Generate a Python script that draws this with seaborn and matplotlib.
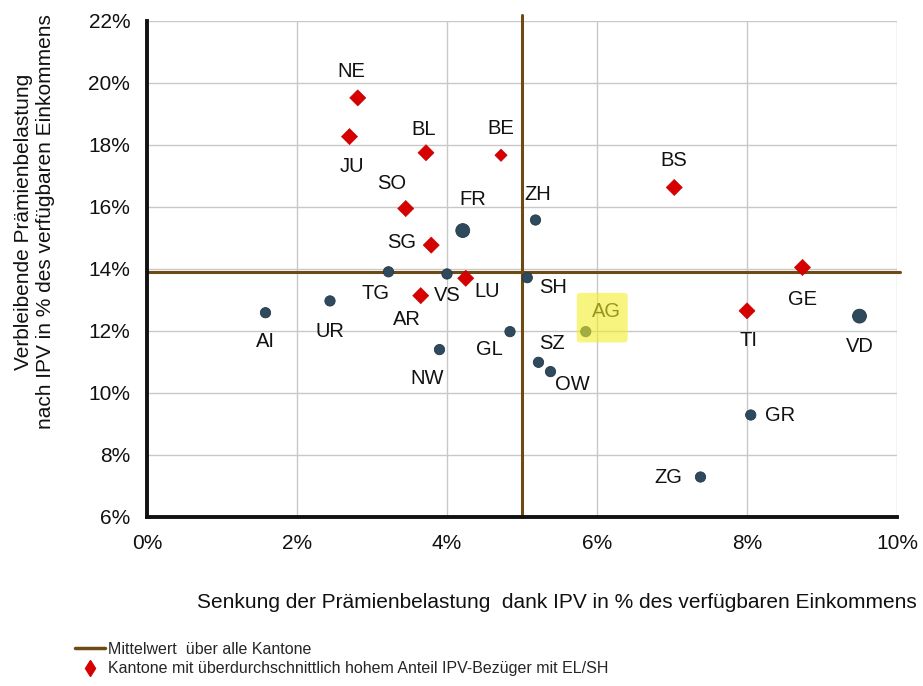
import matplotlib
matplotlib.use("Agg")
import matplotlib.pyplot as plt
import matplotlib.patches as mpatches
from matplotlib.lines import Line2D
from matplotlib.ticker import PercentFormatter
import pandas as pd
import seaborn as sns

# canton data (in %)
cantons = ["NE", "JU", "BL", "BE", "SO", "SG", "AR", "LU", "GE", "TI", "BS",
           "FR", "ZH", "TG", "VS", "SH", "AI", "UR", "GL", "NW", "AG", "SZ",
           "OW", "GR", "ZG", "VD"]
senkung = [2.81, 2.70, 3.72, 4.72, 3.45, 3.79, 3.65, 4.25, 8.74, 8.00, 7.03,
           4.21, 5.18, 3.22, 4.00, 5.07, 1.58, 2.44, 4.84, 3.90, 5.85, 5.22,
           5.38, 8.05, 7.38, 9.50]
belastung = [19.52, 18.27, 17.75, 17.67, 15.95, 14.77, 13.14, 13.70, 14.05,
             12.65, 16.63, 15.24, 15.58, 13.91, 13.84, 13.72, 12.59, 12.97,
             11.98, 11.40, 11.98, 10.99, 10.69, 9.29, 7.29, 12.48]
el_sh = ["NE", "JU", "BL", "BE", "SO", "SG", "AR", "LU", "GE", "TI", "BS"]
mean_x = 5.0
mean_y = 13.9

# label offsets in pixels (dx, dy), dy up
offsets = {
    "NE": (-6, 26), "JU": (2, -30), "BL": (-2, 23), "BE": (0, 27),
    "SO": (-14, 25), "SG": (-30, 3), "FR": (10, 31), "ZH": (2, 26),
    "BS": (0, 27), "GE": (0, -32), "TI": (1, -30), "VD": (0, -30),
    "SH": (26, -10), "AG": (21, 20), "SZ": (13, 19), "OW": (22, -13),
    "GR": (29, 0), "ZG": (-32, 0), "TG": (-13, -22), "VS": (0, -22),
    "LU": (21, -13), "AR": (-14, -24), "UR": (0, -31), "AI": (0, -29),
    "GL": (-21, -18), "NW": (-12, -29),
}

df = pd.DataFrame({"canton": cantons, "x": senkung, "y": belastung})
df["group"] = ["EL/SH" if c in el_sh else "other" for c in cantons]
df["big"] = df["canton"].isin(["FR", "VD"])
df["small"] = df["canton"].isin(["BE"])

sns.set_theme(style="white")
plt.rcParams["font.family"] = ["Liberation Sans", "DejaVu Sans"]

fig = plt.figure(figsize=(9.23, 6.86), dpi=100)
ax = fig.add_axes([147 / 923, 1 - 517 / 686, 750 / 923, 496 / 686])

ax.grid(True, color="#c8c8c8", linewidth=1.0)
ax.set_axisbelow(True)

brown = "#6e4a14"
ax.axvline(mean_x, ymax=1.012, color=brown, linewidth=2.2, zorder=2, clip_on=False)
ax.axhline(mean_y, xmax=1.004, color=brown, linewidth=2.2, zorder=2, clip_on=False)

circles = df[df["group"] == "other"]
diamonds = df[df["group"] == "EL/SH"]
sns.scatterplot(data=circles, x="x", y="y", size="big", sizes={False: 55, True: 100},
                color="#2f4a5c", edgecolor="#22384a", linewidth=0.6,
                legend=False, ax=ax, zorder=3)
sns.scatterplot(data=diamonds, x="x", y="y", size="small", sizes={False: 68, True: 40},
                marker="D", color="#d60000", edgecolor="#c00000", linewidth=0.4,
                legend=False, ax=ax, zorder=3)

for _, row in df.iterrows():
    dx, dy = offsets[row["canton"]]
    ax.annotate(row["canton"], (row["x"], row["y"]), xytext=(dx, dy),
                textcoords="offset pixels", ha="center", va="center",
                fontsize=14.5, color="#111111", zorder=4)

# yellow highlight on AG
ag = df[df["canton"] == "AG"].iloc[0]
ax.add_patch(mpatches.FancyBboxPatch((ag["x"] - 0.12, ag["y"] - 0.35), 0.68, 1.6,
                                     boxstyle="round,pad=0,rounding_size=0.05",
                                     facecolor="#f2ee2a", edgecolor="none",
                                     alpha=0.6, zorder=5, mutation_aspect=2.4))

ax.set_xlim(0, 10)
ax.set_ylim(6, 22)
ax.set_xticks(range(0, 11, 2))
ax.set_yticks(range(6, 23, 2))
ax.xaxis.set_major_formatter(PercentFormatter(decimals=0))
ax.yaxis.set_major_formatter(PercentFormatter(decimals=0))
ax.tick_params(axis="both", labelsize=15, colors="#111111", length=0, pad=12)

sns.despine(ax=ax)
for side in ["left", "bottom"]:
    ax.spines[side].set_color("#111111")
    ax.spines[side].set_linewidth(2.8)
ax.set_xlabel("")
ax.set_ylabel("")

fig.text(35 / 923, 1 - 222 / 686,
         "Verbleibende Prämienbelastung\nnach IPV in % des verfügbaren Einkommens",
         rotation=90, ha="center", va="center", multialignment="center",
         fontsize=15, color="#111111", linespacing=1.2)

fig.text(197 / 923, 1 - 603 / 686,
         "Senkung der Prämienbelastung  dank IPV in % des verfügbaren Einkommens",
         ha="left", va="center", fontsize=15, color="#111111")

handles = [Line2D([], [], color=brown, linewidth=2.5),
           Line2D([], [], color="#d60000", marker="d", linestyle="none", markersize=8)]
fig.legend(handles, ["Mittelwert  über alle Kantone",
                     "Kantone mit überdurchschnittlich hohem Anteil IPV-Bezüger mit EL/SH"],
           loc="center left", bbox_to_anchor=(67 / 923, 1 - 659 / 686), frameon=False,
           handlelength=1.85, handletextpad=0.2, labelspacing=0.3, borderpad=0,
           prop={"size": 11.5})

fig.savefig("out.png", dpi=100)
